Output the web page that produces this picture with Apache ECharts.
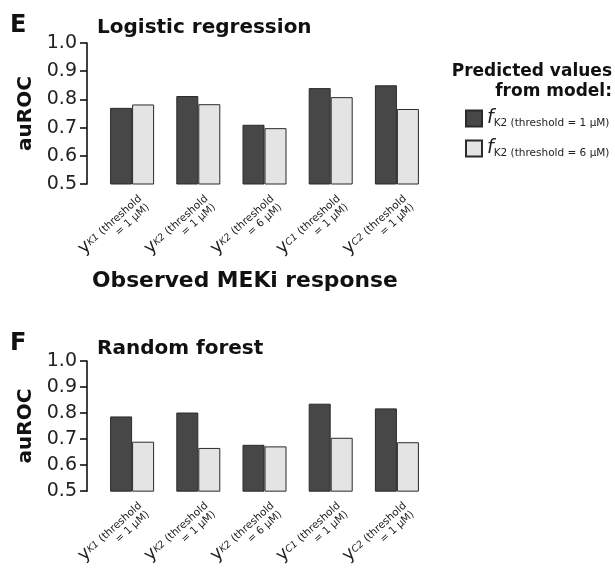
<!DOCTYPE html>
<html><head><meta charset="utf-8">
<script src="https://cdn.jsdelivr.net/npm/echarts@6/dist/echarts.min.js"></script>
<style>html,body{margin:0;padding:0;background:#fff}#c{width:615px;height:573px}</style>
</head><body><div id="c"></div>
<script>
// ---- data ----
const subscripts = ['K1', 'K2', 'K2', 'C1', 'C2'];
const thresholds = ['1', '1', '6', '1', '1'];
const categories = subscripts.map((s, i) => s + '|' + thresholds[i]);
const seriesNames = ['K2 (threshold = 1 μM)', 'K2 (threshold = 6 μM)'];
const logisticT1 = [0.770, 0.812, 0.710, 0.840, 0.850];
const logisticT6 = [0.782, 0.783, 0.698, 0.808, 0.766];
const forestT1 = [0.787, 0.802, 0.678, 0.836, 0.818];
const forestT6 = [0.690, 0.666, 0.672, 0.705, 0.688];
const yMin = 0.5, yMax = 1.0, yStep = 0.1;

const FONT = '"DejaVu Sans", sans-serif';
const dark = '#474747', light = '#e4e4e4';

const chart = echarts.init(document.getElementById('c'));

function xAxis(gridIndex) {
  return {
    type: 'category', gridIndex, data: categories,
    axisLine: { show: false }, axisTick: { show: false },
    axisLabel: {
      rotate: 42, margin: 28, interval: 0, padding: [0, -16, 0, 0],
      fontFamily: FONT, color: '#222',
      formatter: v => {
        const [s, t] = v.split('|');
        return '{y|y}{s|' + s + '} {t|(threshold}\n{t|= ' + t + ' μM)}';
      },
      rich: {
        y: { fontSize: 18, fontFamily: FONT, color: '#222', lineHeight: 12 },
        s: { fontSize: 9.5, fontStyle: 'italic', fontFamily: FONT, color: '#222', lineHeight: 11 },
        t: { fontSize: 10.5, fontFamily: FONT, color: '#222', lineHeight: 11 }
      }
    }
  };
}
function yAxis(gridIndex) {
  return {
    type: 'value', gridIndex, min: yMin, max: yMax, interval: yStep,
    offset: 12,
    name: 'auROC', nameLocation: 'middle', nameGap: 48, nameRotate: 90,
    nameTextStyle: { fontFamily: FONT, fontSize: 20, fontWeight: 'bold', color: '#111' },
    axisLine: { show: true, lineStyle: { color: '#111', width: 1.6 } },
    axisTick: { show: true, length: 7, lineStyle: { color: '#111', width: 1.6 } },
    splitLine: { show: false },
    axisLabel: {
      margin: 10, fontFamily: FONT, fontSize: 19, color: '#222',
      formatter: v => v.toFixed(1)
    }
  };
}
function bar(name, data, idx, color) {
  return {
    type: 'bar', name, data, xAxisIndex: idx, yAxisIndex: idx,
    barWidth: 22, barGap: '0%',
    itemStyle: { color, borderColor: '#2a2a2a', borderWidth: 1 },
    silent: true
  };
}

chart.setOption({
  animation: false,
  backgroundColor: '#fff',
  title: [
    { text: 'E', left: 5, top: 9, textStyle: { fontFamily: FONT, fontSize: 24, fontWeight: 'bold', color: '#111' } },
    { text: 'Logistic regression', left: 92, top: 13, textStyle: { fontFamily: FONT, fontSize: 20, fontWeight: 'bold', color: '#111' } },
    { text: 'Observed MEKi response', left: 87, top: 265, textStyle: { fontFamily: FONT, fontSize: 21.8, fontWeight: 'bold', color: '#111' } },
    { text: 'F', left: 5, top: 327, textStyle: { fontFamily: FONT, fontSize: 24, fontWeight: 'bold', color: '#111' } },
    { text: 'Random forest', left: 92, top: 334, textStyle: { fontFamily: FONT, fontSize: 20, fontWeight: 'bold', color: '#111' } },
    { text: 'Predicted values\nfrom model:', left: 607, top: 57, textAlign: 'right',
      textStyle: { fontFamily: FONT, fontSize: 17, fontWeight: 'bold', color: '#111', lineHeight: 20, align: 'right' } }
  ],
  legend: {
    orient: 'vertical', left: 460, top: 103, itemWidth: 16, itemHeight: 16, itemGap: 9,
    icon: 'rect', selectedMode: false,
    data: seriesNames,
    formatter: n => '{f|f}{s|' + n + '}',
    textStyle: {
      rich: {
        f: { fontSize: 19, fontStyle: 'italic', fontFamily: FONT, color: '#222', lineHeight: 16 },
        s: { fontSize: 10.5, fontFamily: FONT, color: '#222', padding: [10, 0, 0, 0], lineHeight: 12 }
      }
    }
  },
  grid: [
    { left: 99, width: 331, top: 43, height: 141 },
    { left: 99, width: 331, top: 361, height: 142 }
  ],
  xAxis: [xAxis(0), xAxis(1)],
  yAxis: [yAxis(0), yAxis(1)],
  series: [
    bar(seriesNames[0], logisticT1, 0, dark),
    bar(seriesNames[1], logisticT6, 0, light),
    bar(seriesNames[0], forestT1, 1, dark),
    bar(seriesNames[1], forestT6, 1, light)
  ]
});
</script></body></html>
